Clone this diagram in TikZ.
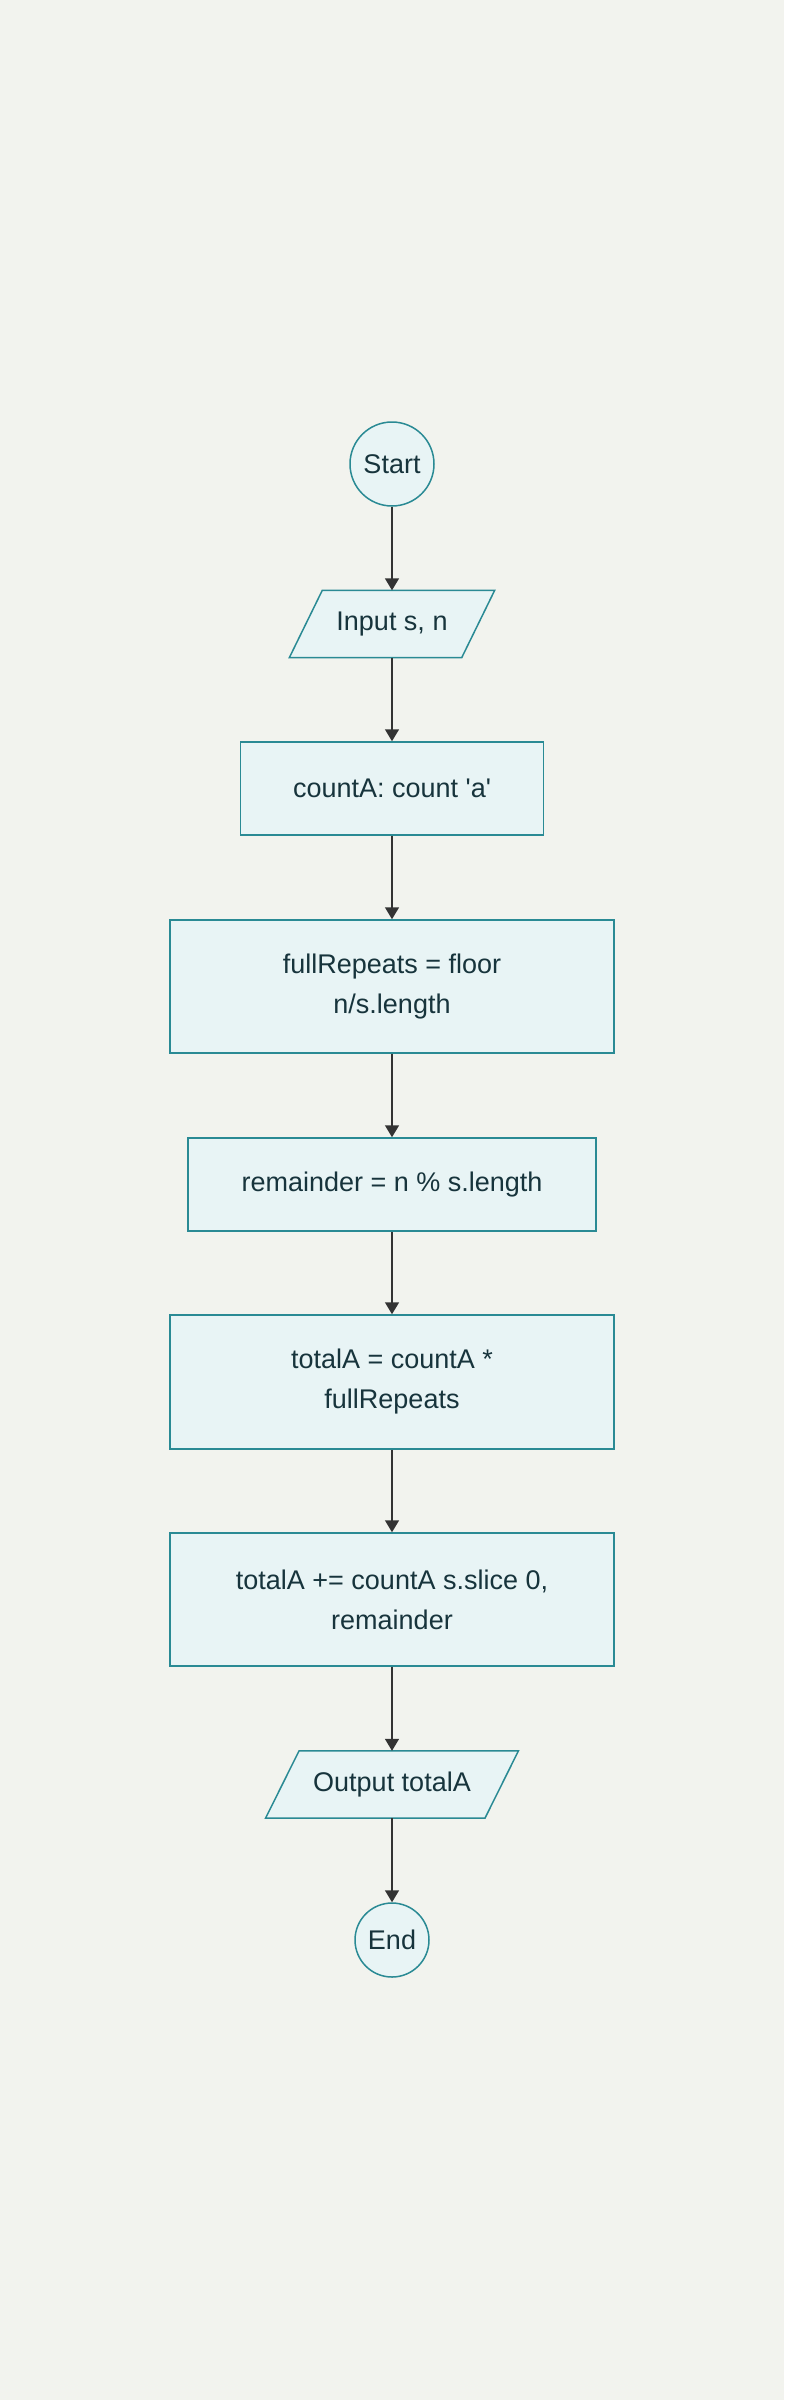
\documentclass[tikz,border=0pt]{standalone}
\usepackage{fontspec}
\setmainfont{Liberation Sans}
\usetikzlibrary{arrows.meta,backgrounds}
\definecolor{bgcol}{HTML}{F2F3EE}
\definecolor{boxfill}{HTML}{E8F4F5}
\definecolor{boxline}{HTML}{2A8A94}
\definecolor{txtcol}{HTML}{17343C}
\definecolor{arrcol}{HTML}{333333}
\tikzset{
  base/.style={text=txtcol, font=\fontsize{27}{40}\selectfont, align=center, inner sep=0pt},
  proc/.style={base, draw=boxline, fill=boxfill, line width=1.5pt, rectangle},
  term/.style={base, draw=boxline, fill=boxfill, line width=1.5pt, circle},
  io/.style={base, rectangle},
  iobox/.style={draw=boxline, fill=boxfill, line width=1.5pt, line join=miter},
  conn/.style={draw=arrcol, line width=1.5pt, -{Triangle[length=12pt,width=14pt]}}
}
\begin{document}
\begin{tikzpicture}[x=1pt,y=-1pt]
\useasboundingbox (0,0) rectangle (784,2400);
\node[term, minimum size=84pt] (start) at (392,464) {Start};
\node[io, minimum width=172pt, minimum height=67pt] (inp) at (392,624) {Input s, n};
\node[proc, minimum width=303pt, minimum height=93pt] (cA) at (392,788.5) {countA: count \textquotesingle a\textquotesingle};
\node[proc, minimum width=444pt, minimum height=133pt] (fr) at (392,986.5) {fullRepeats = floor\\n/s.length};
\node[proc, minimum width=408pt, minimum height=93pt] (rem) at (392,1184.5) {remainder = n \% s.length};
\node[proc, minimum width=444pt, minimum height=134pt] (tot) at (392,1382) {totalA = countA *\\fullRepeats};
\node[proc, minimum width=444pt, minimum height=133pt] (tot2) at (392,1599.5) {totalA += countA s.slice 0,\\remainder};
\node[io, minimum width=219pt, minimum height=67pt] (out) at (392,1784.5) {Output totalA};
\node[term, minimum size=74pt] (end) at (392,1940) {End};
\begin{pgfonlayer}{background}
\fill[bgcol] (0,0) rectangle (784,2400);
\path[iobox] ([xshift=16.5pt]inp.north west) -- ([xshift=16.5pt]inp.north east) -- ([xshift=-16.5pt]inp.south east) -- ([xshift=-16.5pt]inp.south west) -- cycle;
\path[iobox] ([xshift=16.75pt]out.north west) -- ([xshift=16.75pt]out.north east) -- ([xshift=-16.75pt]out.south east) -- ([xshift=-16.75pt]out.south west) -- cycle;
\end{pgfonlayer}
\draw[conn] (start) -- (inp);
\draw[conn] (inp) -- (cA);
\draw[conn] (cA) -- (fr);
\draw[conn] (fr) -- (rem);
\draw[conn] (rem) -- (tot);
\draw[conn] (tot) -- (tot2);
\draw[conn] (tot2) -- (out);
\draw[conn] (out) -- (end);
\end{tikzpicture}
\end{document}
